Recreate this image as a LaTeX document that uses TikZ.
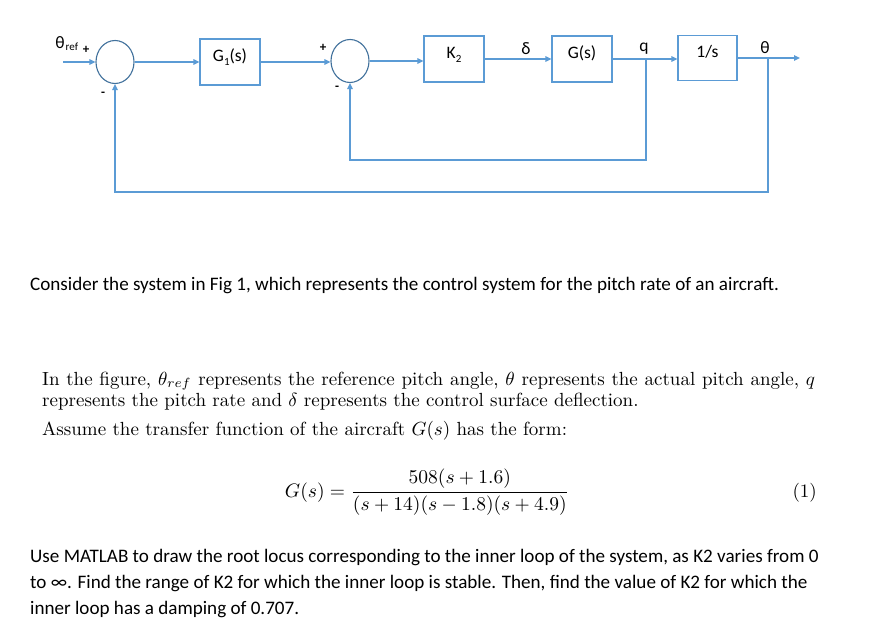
\documentclass[tikz,border=0pt]{standalone}
\usepackage{fontspec}
\usepackage{amsmath}
\usetikzlibrary{arrows.meta,shapes.geometric}
\newfontfamily\calib{Carlito}
\definecolor{lineblue}{HTML}{5B9BD5}
\definecolor{ringblue}{HTML}{41719C}
\newcommand\lowsub[1]{\raisebox{-3.5pt}{\fontsize{11}{11}\selectfont #1}}
\begin{document}
\begin{tikzpicture}[x=1pt,y=-1pt,
  sig/.style={draw=lineblue,line width=1.4pt,-{Triangle[length=6pt,width=5.5pt]}},
  blk/.style={draw=lineblue,line width=1.2pt,minimum width=60pt,minimum height=46pt,inner sep=0pt,font=\calib\fontsize{17.5}{17.5}\selectfont,text height=12pt,text depth=12pt},
  summer/.style={ellipse,draw=ringblue,line width=1.1pt,minimum width=38pt,minimum height=43pt,inner sep=0pt},
  lbl/.style={font=\calib\fontsize{17.5}{17.5}\selectfont,inner sep=0pt},
  sgn/.style={font=\calib\bfseries\fontsize{13}{13}\selectfont,inner sep=0pt},
  para/.style={font=\calib\fontsize{19.1}{19.1}\selectfont,anchor=base west,inner sep=0pt},
  tex/.style={anchor=base west,inner sep=0pt}
]
\useasboundingbox (0,0) rectangle (890,636);
\fill[white] (0,0) rectangle (890,636);

% blocks
\node[summer] (s1) at (115,62) {};
\node[blk] (g1) at (230,62) {G\lowsub{1}(s)};
\node[summer] (s2) at (350,61) {};
\node[blk] (k2) at (454,59) {K\lowsub{2}};
\node[blk] (g) at (582,59) {G(s)};
\node[blk,minimum width=59pt,minimum height=45pt] (inv) at (707.5,58) {1/s};

\coordinate (in) at (63,62);
\coordinate (qb) at (646,59);
\coordinate (qlow) at (646,160);
\coordinate (tb) at (768,58);
\coordinate (tlow) at (768,192);
\coordinate (out) at (800,58);

% forward path
\draw[sig] (in) -- (s1.west);
\draw[sig] (s1.east) -- (g1.west);
\draw[sig] (g1.east) -- (g1.east -| s2.west);
\draw[sig] (s2.east) -- (s2.east -| k2.west);
\draw[sig] (k2.east) -- (g.west);
\draw[sig] (g.east) -- (g.east -| inv.west);
\draw[sig] (inv.east) -- (out);
% feedback
\draw[sig] (qb) -- (qlow) -| (s2.south);
\draw[sig] (tb) -- (tlow) -| (s1.south);

% signal labels
\node[lbl] (thref) at (60,43) {θ};
\node[anchor=west,inner sep=0pt,font=\calib\fontsize{11}{11}\selectfont] (refsub) at (65.5,47) {ref};
\node[sgn] (p1) at (86,50) {+};
\node[sgn] (m1) at (103,94) {-};
\node[sgn] (p2) at (323,48) {+};
\node[sgn] (m2) at (337,88) {-};
\node[lbl] (dl) at (526,49) {δ};
\node[lbl] (ql) at (644,49) {q};
\node[lbl] (tl) at (765,48) {θ};

% text
\node[para] (c1) at (30,290) {Consider the system in Fig 1, which represents the control system for the pitch rate of an aircraft.};

\node[tex] (t1) at (42,385) {\scalebox{1.9}{\hbox to 406.8pt{In the figure, $\theta_{ref}$ represents the reference pitch angle, $\theta$ represents the actual pitch angle, $q$}}};
\node[tex] (t2) at (42,406) {\scalebox{1.9}{represents the pitch rate and $\delta$ represents the control surface deflection.}};
\node[tex] (t3) at (42,435) {\scalebox{1.9}{Assume the transfer function of the aircraft $G(s)$ has the form:}};
\node[anchor=base,inner sep=0pt] (eq) at (427,497) {\scalebox{1.95}{$\displaystyle G(s)=\frac{508(s+1.6)}{(s+14)(s-1.8)(s+4.9)}$}};
\node[anchor=base east,inner sep=0pt] (eqn) at (817,497) {\scalebox{1.9}{(1)}};

\node[para] (u1) at (30,562) {Use MATLAB to draw the root locus corresponding to the inner loop of the system, as K2 varies from 0};
\node[para] (u2) at (30,588) {to ∞. Find the range of K2 for which the inner loop is stable. Then, find the value of K2 for which the};
\node[para] (u3) at (30,614) {inner loop has a damping of 0.707.};
\end{tikzpicture}
\end{document}
